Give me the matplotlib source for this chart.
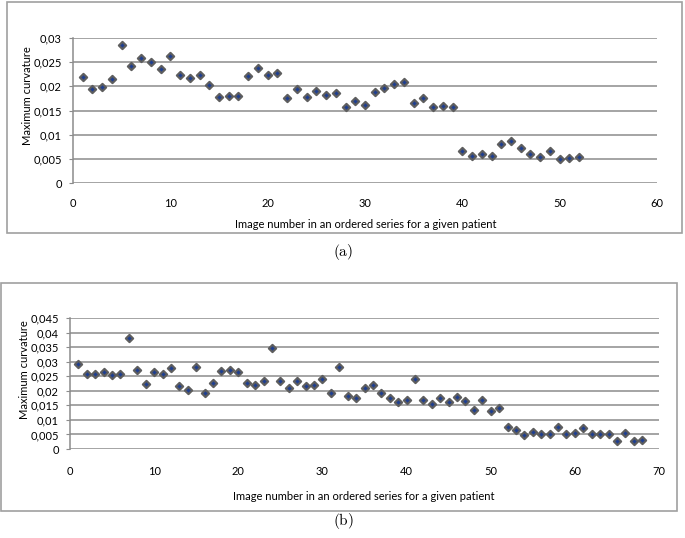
import numpy as np
import matplotlib
matplotlib.use('Agg')
import matplotlib.pyplot as plt
from matplotlib.patches import Rectangle
from matplotlib.ticker import FuncFormatter

plt.rcParams['font.family'] = ['Lato', 'DejaVu Sans']
plt.rcParams['mathtext.fontset'] = 'cm'

# (a) 52枚
curv_a = [0.0220, 0.0195, 0.0198, 0.0215, 0.0286, 0.0242, 0.0258, 0.0250, 0.0236, 0.0263,
          0.0224, 0.0217, 0.0224, 0.0202, 0.0177, 0.0179, 0.0179, 0.0221, 0.0237, 0.0224,
          0.0228, 0.0176, 0.0194, 0.0178, 0.0191, 0.0182, 0.0186, 0.0157, 0.0170, 0.0161,
          0.0188, 0.0197, 0.0204, 0.0210, 0.0166, 0.0176, 0.0157, 0.0159, 0.0158, 0.0067,
          0.0056, 0.0060, 0.0056, 0.0081, 0.0086, 0.0073, 0.0061, 0.0054, 0.0066, 0.0049,
          0.0051, 0.0053]
img_a = np.arange(1, len(curv_a) + 1)

# (b) 68枚
curv_b = [0.0292, 0.0259, 0.0256, 0.0264, 0.0254, 0.0259, 0.0383, 0.0272, 0.0223, 0.0266,
          0.0259, 0.0278, 0.0215, 0.0204, 0.0280, 0.0193, 0.0226, 0.0267, 0.0272, 0.0263,
          0.0228, 0.0219, 0.0233, 0.0347, 0.0235, 0.0211, 0.0235, 0.0216, 0.0220, 0.0241,
          0.0193, 0.0283, 0.0182, 0.0176, 0.0211, 0.0219, 0.0193, 0.0176, 0.0163, 0.0167,
          0.0239, 0.0169, 0.0156, 0.0176, 0.0160, 0.0178, 0.0164, 0.0134, 0.0167, 0.0130,
          0.0140, 0.0077, 0.0064, 0.0047, 0.0058, 0.0053, 0.0053, 0.0077, 0.0050, 0.0055,
          0.0071, 0.0053, 0.0053, 0.0050, 0.0027, 0.0055, 0.0027, 0.0030]
img_b = np.arange(1, len(curv_b) + 1)

W, H = 685, 538
fig = plt.figure(figsize=(W / 100, H / 100), dpi=100)

def px(x0, y0, x1, y1):
    # ピクセル座標 -> figure座標
    return [x0 / W, 1 - y1 / H, (x1 - x0) / W, (y1 - y0) / H]

def comma(v, pos):
    s = ('%.3f' % v).rstrip('0').rstrip('.')
    return s.replace('.', ',')

def panel(rect, x, y, xmax, ymax, ystep, xpad):
    ax = fig.add_axes(rect)
    ax.scatter(x, y, marker='D', s=14, facecolor='#1f3f8f', edgecolor='#5e5e5e',
               linewidth=1.5, zorder=3)
    ax.set_xlim(0, xmax)
    ax.set_ylim(0, ymax)
    ax.set_xticks(np.arange(0, xmax + 1, 10))
    ax.set_yticks(np.arange(0, ymax + ystep / 2, ystep))
    ax.yaxis.set_major_formatter(FuncFormatter(comma))
    ax.grid(axis='y', color='#8c8c8c', lw=1.1)
    ax.set_axisbelow(True)
    for s in ['top', 'right', 'bottom']:
        ax.spines[s].set_visible(False)
    ax.spines['left'].set_color('#8c8c8c')
    ax.spines['left'].set_linewidth(1.1)
    ax.tick_params(axis='y', length=3, color='#8c8c8c', labelsize=8, pad=5)
    ax.tick_params(axis='x', length=0, labelsize=8, pad=xpad)
    return ax

ax1 = panel(px(73, 38, 657, 183), img_a, curv_a, 60, 0.03, 0.005, 11)
ax2 = panel(px(70, 318, 659, 449), img_b, curv_b, 70, 0.045, 0.005, 12)

# 枠
for x0, y0, x1, y1 in [(7, 2, 682, 233), (1, 283, 677, 511)]:
    fig.add_artist(Rectangle((x0 / W, 1 - y1 / H), (x1 - x0) / W, (y1 - y0) / H,
                             transform=fig.transFigure, fill=False, ec='#a0a0a0', lw=1.2))

fig.text(28 / W, 1 - 96 / H, 'Maximum curvature', rotation=90, ha='center', va='center', fontsize=8)
fig.text(25 / W, 1 - 370 / H, 'Maximum curvature', rotation=90, ha='center', va='center', fontsize=8)
fig.text(366 / W, 1 - 225 / H, 'Image number in an ordered series for a given patient',
         ha='center', va='center', fontsize=8)
fig.text(364 / W, 1 - 497 / H, 'Image number in an ordered series for a given patient',
         ha='center', va='center', fontsize=8)
fig.text(343 / W, 1 - 252 / H, r'$(\mathrm{a})$', ha='center', va='center', fontsize=11)
fig.text(343 / W, 1 - 521 / H, r'$(\mathrm{b})$', ha='center', va='center', fontsize=11)

plt.savefig('out.png', dpi=100)
